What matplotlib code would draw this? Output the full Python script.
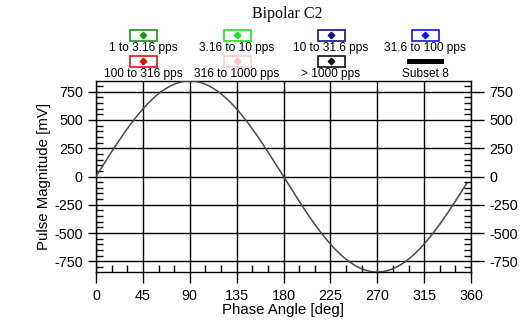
import numpy as np
import matplotlib
matplotlib.use("Agg")
import matplotlib.pyplot as plt
from matplotlib.patches import Rectangle
from matplotlib.ticker import MultipleLocator

plt.rcParams['font.family'] = ['Liberation Sans', 'DejaVu Sans']
plt.rcParams['axes.unicode_minus'] = False

# Chart content
title = "Bipolar C2"
x_label = "Phase Angle [deg]"
y_label = "Pulse Magnitude [mV]"
x_ticks = [0, 45, 90, 135, 180, 225, 270, 315, 360]
y_ticks = [-750, -500, -250, 0, 250, 500, 750]
y_limit = 845          # mV, symmetric vertical range
sine_amplitude = 845   # mV, phase reference sine
sine_end_deg = 356     # last phase angle of the reference sine

legend_labels = ["1 to 3.16 pps", "3.16 to 10 pps", "10 to 31.6 pps", "31.6 to 100 pps",
                 "100 to 316 pps", "316 to 1000 pps", "> 1000 pps", "Subset 8"]
legend_colors = ["#1f8f1f", "#22dd22", "#10108a", "#1010ee",
                 "#dd1010", "#ffc8c8", "#111111", "#000000"]

W, H = 528, 323
fig = plt.figure(figsize=(W / 100, H / 100), dpi=100)

# Main plot area (pixel box: x 96..471, y 81..272)
L, R, T, B = 96, 471, 81, 272
ax = fig.add_axes([L / W, 1 - B / H, (R - L) / W, (B - T) / H])

phase = np.linspace(0, sine_end_deg, 400)
ax.plot(phase, sine_amplitude * np.sin(np.radians(phase)), color="#4a4a4a", lw=1.1, zorder=3)

ax.set_xlim(0, 360)
ax.set_ylim(-y_limit, y_limit)
ax.set_xticks(x_ticks)
ax.set_yticks(y_ticks)
ax.xaxis.set_minor_locator(MultipleLocator(15))
ax.yaxis.set_minor_locator(MultipleLocator(50))
ax.grid(True, which="major", color="black", lw=1.0)

for s in ax.spines.values():
    s.set_linewidth(1.0)
    s.set_color("black")

ax.tick_params(axis="x", which="major", direction="out", length=8, width=1.0,
               labelsize=10.4, pad=4, top=False)
ax.tick_params(axis="x", which="minor", direction="in", length=5, width=1.0, top=False)
ax.tick_params(axis="y", which="major", direction="out", length=5.5, width=1.0,
               labelsize=10.4, pad=4)
ax.tick_params(axis="y", which="minor", direction="in", length=5, width=1.0)

# Right-hand magnitude scale
axr = ax.twinx()
axr.set_ylim(ax.get_ylim())
axr.set_yticks(y_ticks)
axr.yaxis.set_minor_locator(MultipleLocator(50))
axr.tick_params(axis="y", which="major", direction="out", length=9, width=1.0,
                labelsize=10.4, pad=4)
axr.tick_params(axis="y", which="minor", direction="in", length=5, width=1.0)
for s in axr.spines.values():
    s.set_visible(False)

ax.set_xlabel(x_label, fontsize=10.8, labelpad=0)
ax.set_ylabel(y_label, fontsize=10.8, labelpad=2)

# Header: title and legend drawn in pixel coordinates
hdr = fig.add_axes([0, 0, 1, 1], facecolor="none")
hdr.set_xlim(0, W)
hdr.set_ylim(H, 0)
hdr.axis("off")

hdr.text(287, 14, title, ha="center", va="center", fontsize=11.5,
         family=["Liberation Serif", "DejaVu Serif"])

col_x = [143, 237, 331, 425]
box_y = [35, 61]
label_y = [48, 74]
bw, bh = 27, 11
for i, (lab, col) in enumerate(zip(legend_labels, legend_colors)):
    r, c = divmod(i, 4)
    cx, cy = col_x[c], box_y[r]
    if lab == "Subset 8":
        hdr.add_patch(Rectangle((cx - 18, cy - 2.5), 37, 5, facecolor=col, edgecolor="none"))
    else:
        hdr.add_patch(Rectangle((cx - bw / 2, cy - bh / 2), bw, bh, facecolor="white",
                                edgecolor=col, lw=1.2))
        hdr.plot([cx], [cy], marker="D", ms=3.3, color=col, mec=col)
    hdr.text(cx, label_y[r], lab, ha="center", va="center", fontsize=8.6)

fig.savefig("out.png", dpi=100)
